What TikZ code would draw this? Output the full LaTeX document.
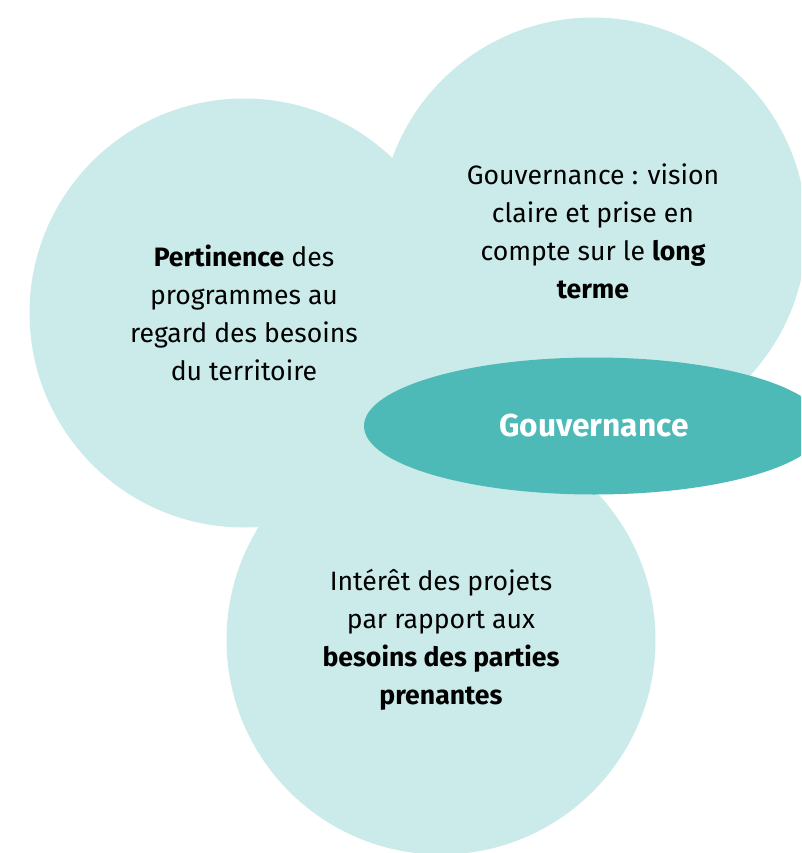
\documentclass[tikz,border=0pt]{standalone}
\usepackage{fontspec}
\setmainfont{Fira Sans}
\usepackage{tikz}
\usetikzlibrary{positioning,shapes.geometric}
\definecolor{tealbg}{HTML}{CBEBEA}
\definecolor{tealdk}{HTML}{4DBAB7}
\tikzset{bubble/.style={circle,fill=tealbg,minimum size=429pt,inner sep=0pt,align=center,font=\fontsize{26.6}{38}\selectfont}}

\begin{document}
\begin{tikzpicture}[x=1pt,y=-1pt]
\useasboundingbox (0,0) rectangle (801,853);
\clip (0,0) rectangle (801,853);
\node[bubble] (pert) at (244,313){\textbf{Pertinence} des\\programmes au\\regard des besoins\\du territoire};
\node[bubble,minimum size=427pt] (vision) at (593,231){Gouvernance : vision\\claire et prise en\\compte sur le \textbf{long}\\\textbf{terme}};
\node[bubble] (interet) at (441,640){Int\'er\^et des projets\\par rapport aux\\\textbf{besoins des parties}\\\textbf{prenantes}};
\node[ellipse,fill=tealdk,minimum width=460pt,minimum height=137pt,inner sep=0pt,text=white,font=\fontsize{31.7}{36}\selectfont\bfseries] (gouv) at (594,426){Gouvernance};
\end{tikzpicture}
\end{document}
